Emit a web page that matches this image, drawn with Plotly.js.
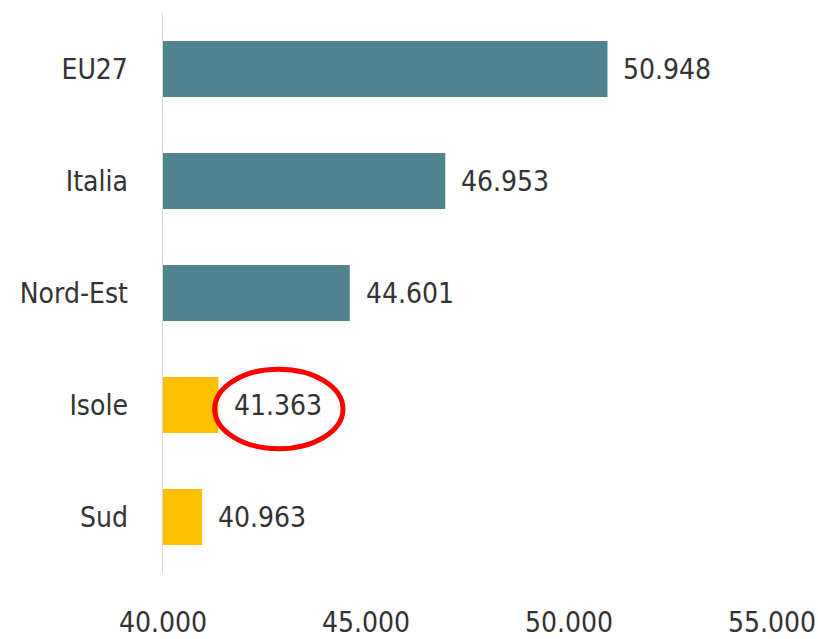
<!DOCTYPE html>
<html>
<head>
<meta charset="utf-8">
<script src="https://cdn.plot.ly/plotly-3.0.1.min.js"></script>
<style>html,body{margin:0;padding:0;background:#fff;}#chart{width:818px;height:639px;}</style>
</head>
<body>
<div id="chart"></div>
<script>
const categories = ["EU27", "Italia", "Nord-Est", "Isole", "Sud"];
const values = [50948, 46953, 44601, 41363, 40963];
const barColors = ["#50838F", "#50838F", "#50838F", "#FFC000", "#FFC000"];
const tickVals = [40000, 45000, 50000, 55000];
const highlightCategory = "Isole";

const FONT = '"Liberation Sans Narrow", "Arial Narrow", "DejaVu Sans Condensed", Arial, sans-serif';
const TXT = '#333333';
const FS = 28;

const fmt = v => v.toString().replace(/\B(?=(\d{3})+(?!\d))/g, '.');

const trace = {
  type: 'bar',
  orientation: 'h',
  y: categories,
  x: values,
  marker: {color: barColors, line: {width: 0}},
  width: 0.5,
  hoverinfo: 'none'
};

const annotations = values.map((v, i) => ({
  x: v, y: categories[i], xref: 'x', yref: 'y',
  text: fmt(v), showarrow: false, xanchor: 'left', yanchor: 'middle',
  xshift: 14, font: {family: FONT, size: FS, color: TXT}
}));

const hi = categories.indexOf(highlightCategory);
const hiVal = values[hi];

const layout = {
  width: 818, height: 639,
  margin: {l: 163, r: 46, t: 13, b: 66, pad: 0},
  paper_bgcolor: '#ffffff', plot_bgcolor: '#ffffff',
  separators: ',.',
  showlegend: false,
  font: {family: FONT, size: FS, color: TXT},
  xaxis: {
    range: [40000, 55000.5],
    tickvals: tickVals,
    tickformat: ',',
    showgrid: false, zeroline: false, showline: false,
    ticks: '', ticklabelstandoff: 30,
    tickfont: {family: FONT, size: FS, color: TXT},
    automargin: false,
    fixedrange: true
  },
  yaxis: {
    type: 'category',
    categoryorder: 'array', categoryarray: categories,
    autorange: 'reversed',
    showgrid: false, zeroline: false,
    showline: true, linecolor: '#d9d9d9', linewidth: 1.5,
    ticks: '', ticklabelstandoff: 28,
    tickfont: {family: FONT, size: FS, color: TXT},
    automargin: false,
    fixedrange: true
  },
  annotations: annotations,
  shapes: [{
    type: 'circle', xref: 'x', yref: 'y',
    x0: hiVal - 90, x1: hiVal + 3070,
    y0: hi - 0.32, y1: hi + 0.39,
    line: {color: '#ff0000', width: 5},
    fillcolor: 'rgba(0,0,0,0)'
  }]
};

Plotly.newPlot('chart', [trace], layout, {displayModeBar: false, staticPlot: true});
</script>
</body>
</html>
